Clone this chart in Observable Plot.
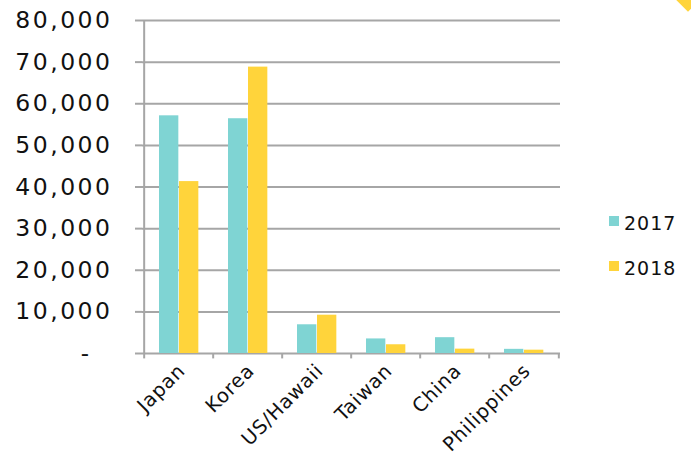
<!DOCTYPE html>
<html>
<head>
<meta charset="utf-8">
<script src="https://cdn.jsdelivr.net/npm/d3@7"></script>
<script src="https://cdn.jsdelivr.net/npm/@observablehq/plot@0.6"></script>
<style>
  html, body { margin: 0; padding: 0; background: #fff; }
  #wrap { position: relative; width: 691px; height: 461px; overflow: hidden; font-family: "DejaVu Sans", sans-serif; }
  #legend { position: absolute; left: 609px; top: 200px; font-size: 19px; color: #111; letter-spacing: 1px; }
  .item { display: flex; align-items: center; height: 45px; }
  .sw { width: 10px; height: 10px; margin-right: 5px; margin-top: -4px; }
  #corner { position: absolute; right: -6px; top: -10px; width: 18px; height: 18px; background: #ffd43b; transform: rotate(45deg); }
  #wrap svg g[aria-label="y-axis tick label"] text { letter-spacing: 2.5px; }
  #wrap svg g[aria-label="x-axis tick label"] text { letter-spacing: 0.8px; }
</style>
</head>
<body>
<div id="wrap"><div id="corner"></div><div id="legend"></div></div>
<script>
const categories = ["Japan", "Korea", "US/Hawaii", "Taiwan", "China", "Philippines"];
const years = ["2017", "2018"];
const values2017 = [57100, 56400, 6900, 3500, 3800, 1000];
const values2018 = [41300, 68800, 9200, 2100, 1050, 800];
const yTicks = [10000, 20000, 30000, 40000, 50000, 60000, 70000, 80000];
const colors = ["#7fd4d3", "#ffd43b"];

const rows = categories.flatMap((c, i) => [
  {category: c, year: "2017", value: values2017[i]},
  {category: c, year: "2018", value: values2018[i]}
]);

const W = 691, H = 461, mL = 142, mR = 131, mT = 20, mB = 108;
const bw = (W - mL - mR) / categories.length;
const grid = "#a6a6a6";

const plot = Plot.plot({
  width: W, height: H,
  marginLeft: mL, marginRight: mR, marginTop: mT, marginBottom: mB,
  style: {fontFamily: "DejaVu Sans, sans-serif", background: "transparent", overflow: "visible"},
  x: {domain: categories, padding: 0, axis: null, label: null},
  y: {domain: [0, 80000], axis: null, label: null},
  color: {domain: years, range: colors},
  marks: [
    Plot.ruleY([0, ...yTicks], {stroke: grid, strokeWidth: 2}),
    Plot.ruleX(categories, {x: d => d, y1: -1300, y2: 0, dx: -bw / 2, stroke: grid, strokeWidth: 2}),
    Plot.ruleX([categories[0]], {x: d => d, y1: 0, y2: 80000, dx: -bw / 2, stroke: grid, strokeWidth: 2}),
    Plot.ruleX([categories[categories.length - 1]], {x: d => d, y1: -1300, y2: 0, dx: bw / 2, stroke: grid, strokeWidth: 2}),
    Plot.barY(rows.filter(d => d.year === "2017"), {x: "category", y: "value", fill: colors[0], insetLeft: 15, insetRight: bw - 35}),
    Plot.barY(rows.filter(d => d.year === "2018"), {x: "category", y: "value", fill: colors[1], insetLeft: 35, insetRight: bw - 55}),
    Plot.axisY({ticks: yTicks, label: null, tickSize: 7, stroke: grid, strokeWidth: 2, tickPadding: 23, fontSize: 23.5, tickFormat: d3.format(","), fill: "#111"}),
    Plot.axisY({ticks: [0], label: null, tickSize: 7, stroke: grid, strokeWidth: 2, tickPadding: 44, fontSize: 23, tickFormat: () => "-", fill: "#111"}),
    Plot.axisX({label: null, tickSize: 0, tickPadding: 14, tickRotate: -45, fontSize: 19.5, fill: "#111", dx: 3})
  ]
});
document.getElementById("wrap").appendChild(plot);

const legend = document.getElementById("legend");
years.forEach((y, i) => {
  const it = document.createElement("div");
  it.className = "item";
  it.innerHTML = `<span class="sw" style="background:${colors[i]}"></span><span>${y}</span>`;
  legend.appendChild(it);
});
</script>
</body>
</html>
